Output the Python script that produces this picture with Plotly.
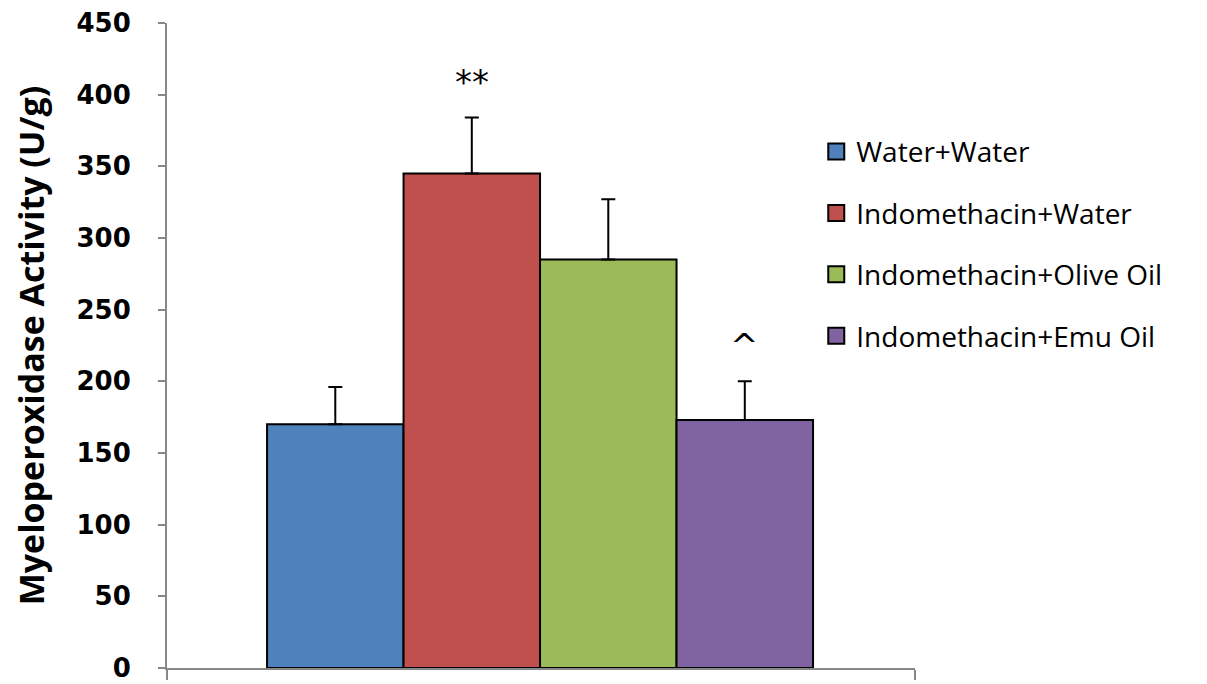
import plotly.graph_objects as go

groups = ["Water+Water", "Indomethacin+Water", "Indomethacin+Olive Oil", "Indomethacin+Emu Oil"]
means = [170, 345, 285, 173]
sem_up = [26, 39, 42, 27]
colors = ["#4F81BD", "#C0504D", "#9BBB59", "#8064A2"]
marks = ["", "**", "", "^"]
mark_y = [0, 409, 0, 225]
y_ticks = [0, 50, 100, 150, 200, 250, 300, 350, 400, 450]

x_lo, x_hi = -1.233, 4.247

fig = go.Figure()
for i, (g, m, e, c) in enumerate(zip(groups, means, sem_up, colors)):
    fig.add_trace(go.Bar(
        x=[i], y=[m], width=1, name=g, showlegend=False,
        marker=dict(color=c, line=dict(color="black", width=2)),
        error_y=dict(type="data", array=[e], arrayminus=[0], symmetric=False,
                     color="black", thickness=2, width=7),
    ))
    # legend proxy
    fig.add_trace(go.Scatter(
        x=[None], y=[None], mode="markers", name=g, legendgroup=g,
        marker=dict(symbol="square", size=16, color=c, line=dict(color="black", width=2)),
    ))
    if marks[i]:
        fig.add_annotation(x=i, y=mark_y[i], text=marks[i], showarrow=False,
                           font=dict(family="DejaVu Sans", size=34, color="black"))

fig.update_layout(
    width=1207, height=684,
    margin=dict(l=159, r=300, t=15, b=24, autoexpand=False),
    paper_bgcolor="white", plot_bgcolor="white",
    barmode="overlay",
    showlegend=True,
    legend=dict(x=0.868, y=0.839, xanchor="left", yanchor="top",
                font=dict(family="Open Sans", size=28, color="black"),
                traceorder="grouped", tracegroupgap=22, itemwidth=30,
                bgcolor="rgba(0,0,0,0)"),
    xaxis=dict(range=[x_lo, x_hi], showline=True, linecolor="#878787", linewidth=2,
               tickvals=[x_lo, x_hi], ticktext=["", ""], ticks="outside", ticklen=10,
               tickcolor="#878787", tickwidth=2, showgrid=False, zeroline=False,
               automargin=False),
    yaxis=dict(range=[0, 450], tickvals=y_ticks, showline=True, linecolor="#878787",
               linewidth=2, ticks="outside", ticklen=7, tickcolor="#878787", tickwidth=2,
               showgrid=False, zeroline=False, ticklabelstandoff=22, automargin=False,
               tickfont=dict(family="DejaVu Sans", size=26, color="black", weight="bold"),
               title=dict(text="Myeloperoxidase Activity (U/g)", standoff=28,
                          font=dict(family="Open Sans", size=34, color="black", weight="bold"))),
)

fig.write_html("out.html")
